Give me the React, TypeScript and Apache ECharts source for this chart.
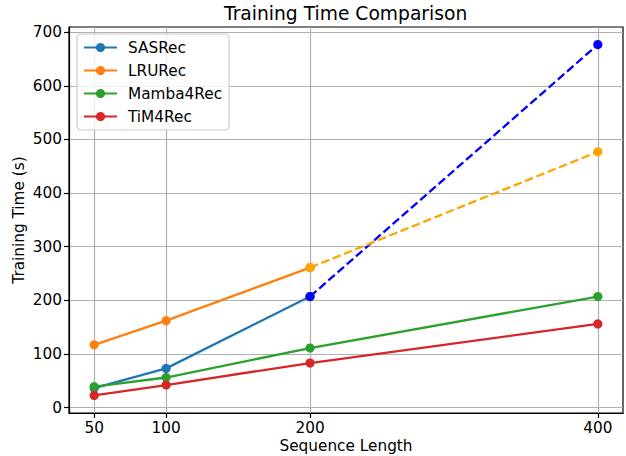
import React, { useEffect, useRef } from "react";
import * as echarts from "echarts";

const seqLengths = [50, 100, 200, 400];
const sasrecTimes = [36, 73, 207, 677];
const lrurecTimes = [117, 162, 261, 477];
const mambaTimes = [39, 56, 111, 207];
const timTimes = [22.5, 42, 83, 156];
const yTickValues = [0, 100, 200, 300, 400, 500, 600, 700];
const modelNames = ["SASRec", "LRURec", "Mamba4Rec", "TiM4Rec"];

const FONT = "DejaVu Sans";

function pts(ys: number[], from: number, to: number) {
  const out: number[][] = [];
  for (let i = from; i <= to; i++) out.push([seqLengths[i], ys[i]]);
  return out;
}

export default function App() {
  const ref = useRef<HTMLDivElement>(null);
  useEffect(() => {
    if (!ref.current) return;
    const chart = echarts.init(ref.current, undefined, { renderer: "svg" });
    const lineW = 2.3;
    const sym = 9.2;
    const solid = (name: string, color: string, data: number[][]) => ({
      type: "line",
      name,
      data,
      symbol: "circle",
      symbolSize: sym,
      lineStyle: { color, width: lineW },
      itemStyle: { color },
      emphasis: { disabled: true },
    });
    const dashed = (name: string, color: string, data: number[][]) => ({
      type: "line",
      name,
      data,
      symbol: "circle",
      symbolSize: sym,
      lineStyle: { color, width: lineW, type: [8.5, 3.7] },
      itemStyle: { color },
      emphasis: { disabled: true },
    });
    chart.setOption({
      animation: false,
      backgroundColor: "#ffffff",
      textStyle: { fontFamily: FONT },
      title: {
        text: "Training Time Comparison",
        left: 224,
        top: 4,
        padding: 0,
        textStyle: { fontFamily: FONT, fontSize: 18.7, fontWeight: "normal", color: "#000" },
      },
      grid: {
        left: 69,
        top: 27,
        right: 3,
        bottom: 43,
        containLabel: false,
        outerBoundsMode: "none",
        show: true,
        borderColor: "#000",
        borderWidth: 1.2,
        backgroundColor: "transparent",
      },
      legend: {
        data: modelNames,
        orient: "vertical",
        left: 77,
        top: 34,
        padding: [6, 7, 6, 6],
        itemWidth: 33,
        itemHeight: 11.5,
        itemGap: 8,
        backgroundColor: "rgba(255,255,255,0.8)",
        borderColor: "#cccccc",
        borderWidth: 1.2,
        borderRadius: 4,
        textStyle: { fontFamily: FONT, fontSize: 15.3, color: "#000", padding: [0, 0, 0, 6] },
      },
      xAxis: {
        type: "value",
        min: 32.5,
        max: 417.5,
        name: "Sequence Length",
        nameLocation: "middle",
        nameGap: 25,
        nameMoveOverlap: false,
        nameTextStyle: { fontFamily: FONT, fontSize: 15.3, color: "#000" },
        axisLine: { show: true, onZero: false, lineStyle: { color: "#000", width: 1.2 } },
        axisTick: { show: true, inside: false, length: 5, customValues: seqLengths, lineStyle: { color: "#000", width: 1.2 } },
        axisLabel: { customValues: seqLengths, margin: 7, fontFamily: FONT, fontSize: 15.3, color: "#000" },
        splitLine: { show: true, lineStyle: { color: "#b0b0b0", width: 1.2 } },
      },
      yAxis: {
        type: "value",
        min: -10.2,
        max: 709.8,
        name: "Training Time (s)",
        nameLocation: "middle",
        nameGap: 43,
        nameMoveOverlap: false,
        nameTextStyle: { fontFamily: FONT, fontSize: 15.3, color: "#000" },
        axisLine: { show: true, onZero: false, lineStyle: { color: "#000", width: 1.2 } },
        axisTick: { show: true, inside: false, length: 5, customValues: yTickValues, lineStyle: { color: "#000", width: 1.2 } },
        axisLabel: { customValues: yTickValues, margin: 7, fontFamily: FONT, fontSize: 15.3, color: "#000" },
        splitLine: { show: true, lineStyle: { color: "#b0b0b0", width: 1.2 } },
      },
      series: [
        solid("SASRec", "#1f77b4", pts(sasrecTimes, 0, 2)),
        dashed("SASRec (extrapolated)", "#0000ff", pts(sasrecTimes, 2, 3)),
        solid("LRURec", "#ff7f0e", pts(lrurecTimes, 0, 2)),
        dashed("LRURec (extrapolated)", "#ffa500", pts(lrurecTimes, 2, 3)),
        solid("Mamba4Rec", "#2ca02c", pts(mambaTimes, 0, 3)),
        solid("TiM4Rec", "#d62728", pts(timTimes, 0, 3)),
      ],
    });
    return () => chart.dispose();
  }, []);
  return (
    <div
      ref={ref}
      style={{ position: "fixed", left: 0, top: 0, width: 626, height: 456 }}
    />
  );
}
